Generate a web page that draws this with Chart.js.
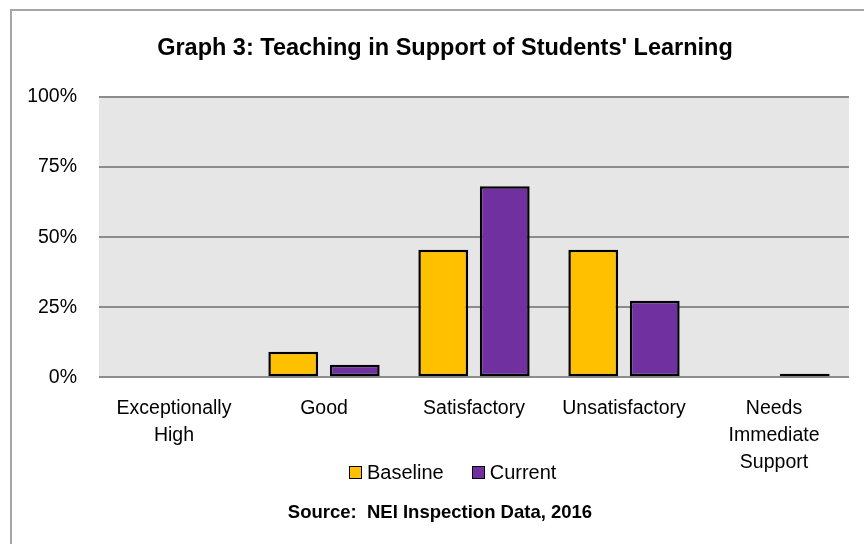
<!DOCTYPE html>
<html>
<head>
<meta charset="utf-8">
<script src="https://cdn.jsdelivr.net/npm/chart.js@4.4.1/dist/chart.umd.min.js"></script>
<style>
    html, body { margin: 0; padding: 0; background: #ffffff; overflow: hidden; }
    body { font-family: 'Liberation Sans', Arial, sans-serif; color: #000; }
    #frame {
        position: absolute; left: 10px; top: 9px; width: 900px; height: 600px;
        border-left: 2px solid #a6a6a6; border-top: 2px solid #a6a6a6;
    }
    #wrap { position: absolute; left: 12px; top: 11px; width: 866px; height: 533px; }
    #title {
        position: absolute; left: 0; width: 890px; top: 33px; text-align: center;
        font-size: 23.5px; line-height: 28px; font-weight: bold; white-space: nowrap;
    }
    #legend {
        position: absolute; left: 349px; top: 459px; height: 26px;
        display: flex; align-items: center; font-size: 20px; white-space: nowrap;
    }
    .item { display: flex; align-items: center; margin-right: 28px; }
    .swatch {
        width: 11px; height: 11px; border: 1.5px solid #000; margin-right: 5px;
    }
    #source {
        position: absolute; left: 0; width: 880px; top: 501px; text-align: center;
        font-size: 18.5px; font-weight: bold; white-space: pre;
    }
</style>
</head>
<body>
<div id="frame"></div>
<div id="wrap"><canvas id="barChart"></canvas></div>
<div id="title">Graph 3: Teaching in Support of Students' Learning</div>
<div id="legend"></div>
<div id="source">Source:  NEI Inspection Data, 2016</div>
<script>
const categories = [
    ["Exceptionally", "High"],
    "Good",
    "Satisfactory",
    "Unsatisfactory",
    ["Needs", "Immediate", "Support"],
];
const seriesNames = ["Baseline", "Current"];
const baselineValues = [0, 9.1, 45.5, 45.5, 0];
const currentValues = [0, 4.5, 68.2, 27.3, 1.3];
const yTicks = [0, 25, 50, 75, 100];

const FONT = "'Liberation Sans', Arial, sans-serif";
const seriesColors = ["#ffc000", "#7030a0"];

// fill the plot area grey like the original
const plotBackground = {
    id: "plotBackground",
    beforeDraw(chart) {
        const { ctx, chartArea } = chart;
        ctx.save();
        ctx.fillStyle = "#e6e6e6";
        ctx.fillRect(chartArea.left, chartArea.top, chartArea.width, chartArea.height);
        ctx.restore();
    },
};

const ctx = document.getElementById("barChart").getContext("2d");

const chart = new Chart(ctx, {
    type: "bar",
    data: {
        labels: categories,
        datasets: [
            {
                label: seriesNames[0],
                data: baselineValues,
                backgroundColor: seriesColors[0],
                borderColor: "#000000",
                borderWidth: 2.5,
                borderSkipped: false,
            },
            {
                label: seriesNames[1],
                data: currentValues,
                backgroundColor: seriesColors[1],
                borderColor: "#000000",
                borderWidth: 2.5,
                borderSkipped: false,
            },
        ],
    },
    options: {
        responsive: true,
        maintainAspectRatio: false,
        animation: false,
        categoryPercentage: 0.82,
        barPercentage: 0.81,
        layout: {
            padding: { left: 0, right: 29, top: 86, bottom: 58 },
        },
        plugins: {
            legend: { display: false },
            tooltip: { enabled: false },
        },
        scales: {
            x: {
                grid: { display: false },
                border: { display: false },
                ticks: {
                    color: "#000000",
                    font: { family: FONT, size: 19.5, lineHeight: 1.38 },
                    maxRotation: 0,
                    autoSkip: false,
                    padding: 10,
                },
            },
            y: {
                min: 0,
                max: 100,
                afterBuildTicks(axis) {
                    axis.ticks = yTicks.map((v) => ({ value: v }));
                },
                afterFit(axis) {
                    axis.width = 87;
                },
                grid: {
                    color: "#8c8c8c",
                    lineWidth: 2,
                    drawTicks: false,
                },
                border: { display: false },
                ticks: {
                    color: "#000000",
                    font: { family: FONT, size: 19.5 },
                    padding: 22,
                    callback: (v) => v + "%",
                },
            },
        },
    },
    plugins: [plotBackground],
});

// html legend
const legendBox = document.getElementById("legend");
chart.data.datasets.forEach((ds) => {
    const item = document.createElement("div");
    item.className = "item";
    const sw = document.createElement("span");
    sw.className = "swatch";
    sw.style.background = ds.backgroundColor;
    const txt = document.createElement("span");
    txt.textContent = ds.label;
    item.appendChild(sw);
    item.appendChild(txt);
    legendBox.appendChild(item);
});
</script>
</body>
</html>
